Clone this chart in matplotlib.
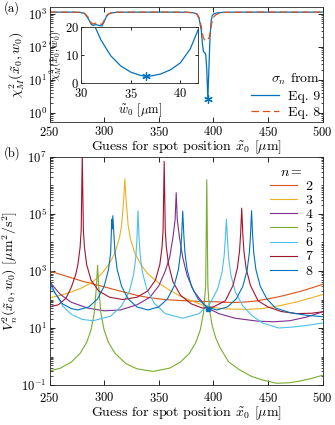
import numpy as np
import matplotlib
matplotlib.use('Agg')
import matplotlib.pyplot as plt
from matplotlib.ticker import LogLocator, NullFormatter, FixedLocator

plt.rcParams['font.family'] = 'serif'
plt.rcParams['font.serif'] = ['cmr10', 'DejaVu Serif']
plt.rcParams['mathtext.fontset'] = 'cm'
plt.rcParams['axes.formatter.use_mathtext'] = True
plt.rcParams['font.size'] = 9

# panel (a): chi^2 vs guess position, two sigma_n estimates
xa = [250, 270, 278, 282, 285, 288, 290, 292, 294, 296, 298, 300, 302, 304, 307, 312, 330, 360, 375, 382,
      385, 387, 389, 390, 391, 392, 393, 394, 395, 396, 397, 398, 399, 400, 402, 405, 410, 430, 470, 500]
chi_eq9 = [1100, 1100, 1080, 1000, 750, 480, 430, 460, 450, 430, 420, 560, 800, 950, 1050, 1090, 1100, 1100, 1090, 1050,
           950, 700, 300, 120, 70, 65, 60, 20, 2.5, 25, 200, 600, 850, 950, 1020, 1060, 1090, 1100, 1100, 1100]
chi_eq8 = [1100, 1100, 1085, 1020, 800, 530, 480, 510, 500, 480, 470, 620, 850, 980, 1060, 1095, 1100, 1100, 1095, 1060,
           970, 750, 400, 250, 180, 160, 150, 160, 170, 180, 250, 400, 600, 750, 900, 1000, 1080, 1100, 1100, 1100]
best_x, best_chi = 395, 2.5

# inset: chi^2 vs spot size guess
w0 = [31, 32, 33, 34, 35, 36, 36.5, 37, 38, 39, 40, 41, 42]
chi_w = [23.5, 15.5, 9.8, 6.2, 4.0, 2.8, 2.5, 2.6, 3.3, 4.8, 7.3, 12.3, 21]
best_w, best_chi_w = 36.5, 2.5

# panel (b): V_n^2 for n = 2..8
x2 = [250, 260, 270, 280, 290, 300, 310, 320, 330, 340, 350, 360, 370, 380, 390, 400, 410, 420, 430, 440, 450, 460, 470, 480, 490, 500]
v2 = [1000, 760, 580, 440, 350, 280, 220, 175, 140, 118, 105, 97, 92, 88, 86, 84, 80, 79, 82, 90, 105, 125, 155, 195, 255, 340]

x3 = [250, 260, 270, 280, 290, 298, 305, 310, 314, 316, 318, 319, 320, 322, 324, 328, 334, 340, 350, 360,
      370, 380, 395, 410, 430, 445, 460, 475, 490, 500]
v3 = [115, 140, 185, 260, 430, 820, 1840, 4400, 14400, 40000, 3.6e5, 1.7e6, 3.6e5, 40000, 14000, 4400, 1600, 800, 380, 210,
      130, 90, 55, 47, 45, 48, 60, 80, 115, 150]

x4 = [250, 255, 260, 270, 285, 300, 315, 330, 342, 350, 356, 360, 363, 365, 366, 367, 369, 372, 376, 382,
      390, 395, 405, 420, 440, 455, 470, 485, 500]
v4 = [430, 250, 150, 80, 50, 40, 43, 65, 120, 300, 1000, 3000, 15000, 63000, 5.6e5, 63000, 15000, 3000, 700, 200,
      80, 50, 32, 22, 17.5, 16.5, 18, 24, 37]

x5 = [250, 260, 270, 278, 284, 288, 291, 293, 294, 295, 297, 300, 304, 310, 320, 330, 345, 360, 370, 378,
      384, 388, 391, 393, 394, 395, 396, 397, 399, 402, 406, 414, 424, 435, 445, 458, 470, 480, 490, 500]
v5 = [0.31, 0.39, 0.64, 1.29, 3.1, 8.5, 34, 300, 1600, 300, 34, 8.5, 3.1, 1.29, 0.56, 0.37, 0.30, 0.39, 0.64, 1.29,
      3.1, 8.5, 34, 300, 1.6e6, 300, 75, 33, 12, 4.7, 2.1, 0.65, 0.34, 0.2, 0.15, 0.115, 0.12, 0.14, 0.17, 0.22]

x6 = [250, 256, 262, 270, 280, 290, 306, 316, 323, 327, 329, 330, 331, 332, 333, 335, 339, 346, 356, 372,
      387, 397, 404, 408, 410, 411, 412, 413, 414, 416, 420, 427, 435, 445, 460, 475, 490, 500]
v6 = [300, 150, 60, 30, 20, 18, 26, 60, 190, 750, 3000, 12000, 1.3e5, 14600, 3660, 920, 236, 73, 32, 22,
      32, 73, 236, 920, 3660, 14600, 6.6e4, 12000, 3000, 750, 190, 60, 28, 15, 10, 11, 13, 15]

x7 = [250, 258, 265, 270, 274, 276, 278, 279, 280, 281, 282, 284, 288, 295, 305, 317, 330, 340, 347, 351,
      353, 354, 355, 356, 357, 359, 363, 370, 380, 390, 400, 411, 418, 422, 424, 425, 426, 427, 428, 430,
      434, 441, 450, 462, 476, 490, 500]
v7 = [56, 65, 110, 270, 750, 1690, 6750, 27000, 1.2e7, 27000, 6750, 1690, 480, 200, 120, 100, 120, 200, 480, 1690,
      6750, 27000, 7e6, 27000, 6750, 1690, 420, 140, 70, 50, 55, 90, 310, 1250, 5000, 20000, 1.6e5, 20000, 5000, 1250,
      310, 90, 55, 38, 32, 33, 37]

x8 = [250, 255, 262, 270, 276, 286, 294, 300, 304, 306, 307, 307.5, 308, 309, 310, 312, 316, 322, 330, 340, 350,
      358, 364, 368, 370, 371, 372, 373, 374, 376, 380, 386, 394, 403, 413, 421, 427, 431, 433, 434, 435,
      436, 437, 439, 443, 449, 457, 470, 485, 500]
v8 = [450, 170, 70, 48, 43, 55, 105, 289, 1110, 4400, 6.5e4, 3e4, 8.7e4, 17500, 4400, 1110, 289, 105, 55, 43, 55,
      105, 289, 1110, 4400, 17500, 1.26e5, 17500, 4400, 1110, 289, 105, 55, 43, 55, 105, 289, 1110, 4400, 17500, 1.3e5,
      17500, 4400, 1110, 289, 105, 50, 35, 28, 25]

cross_x, cross_v = 395, 48

n_labels = ['2', '3', '4', '5', '6', '7', '8']
n_colors = ['#D95319', '#EDB120', '#7E2F8E', '#77AC30', '#4DBEEE', '#A2142F', '#0072BD']
blue = '#0072BD'
orange = '#D95319'
xticks = [250, 300, 350, 400, 450, 500]


def matlab_axes(ax, size=9):
    ax.tick_params(which='both', direction='in', top=True, right=True, labelsize=size, pad=2)
    ax.tick_params(which='major', length=3.5, width=0.6)
    ax.tick_params(which='minor', length=1.8, width=0.5)
    for s in ax.spines.values():
        s.set_linewidth(0.6)
        s.set_color('#262626')


fig = plt.figure(figsize=(3.35, 4.25), dpi=100)

# ---- (a)
axa = fig.add_axes([0.1478, 0.7135, 0.815, 0.2706])
axa.plot(xa, chi_eq9, color=blue, lw=0.9, label='Eq. 9')
axa.plot(xa, chi_eq8, color=orange, lw=0.9, ls=(0, (6, 3)), label='Eq. 8')
axa.plot([best_x], [best_chi], ls='none', marker=(6, 2, 0), ms=6, mec=blue, mew=0.9)
axa.set_yscale('log')
axa.set_xlim(250, 500)
axa.set_ylim(0.53, 1600)
axa.set_xticks(xticks)
axa.set_yticks([1, 10, 100, 1000])
axa.yaxis.set_minor_locator(LogLocator(base=10, subs=np.arange(2, 10)))
axa.yaxis.set_minor_formatter(NullFormatter())
axa.set_xlabel(r'Guess for spot position $\tilde{x}_0$ [$\mu$m]', fontsize=10, labelpad=0)
axa.set_ylabel(r'$\chi^2_M(\tilde{x}_0, w_0)$', fontsize=10, labelpad=1)
matlab_axes(axa)
leg = axa.legend(loc='lower right', frameon=False, fontsize=10, title=r'$\sigma_n$ from',
                 title_fontsize=10, handlelength=2.0, borderaxespad=0.0, labelspacing=0.25,
                 handletextpad=0.6, borderpad=0.2)
leg._legend_box.align = 'right'

# inset
axi = fig.add_axes([0.2418, 0.804, 0.350, 0.1318])
axi.plot(w0, chi_w, color=blue, lw=0.9)
axi.plot([best_w], [best_chi_w], ls='none', marker=(6, 2, 0), ms=6, mec=blue, mew=0.9)
axi.set_xlim(30, 41.8)
axi.set_ylim(0, 20)
axi.set_xticks([30, 35, 40])
axi.set_yticks([0, 10, 20])
matlab_axes(axi, size=9)
axi.tick_params(length=2.5)
axi.tick_params(axis='x', pad=3)
axi.tick_params(axis='y', pad=1.5)
axi.set_xlabel(r'$\tilde{w}_0$ [$\mu$m]', fontsize=9, labelpad=0)
axi.set_ylabel(r'$\chi^2_M(\tilde{x}_0, \tilde{w}_0)$', fontsize=7.5, labelpad=0.5)

# ---- (b)
axb = fig.add_axes([0.1478, 0.0941, 0.815, 0.5365])
xs = [x2, x3, x4, x5, x6, x7, x8]
vs = [v2, v3, v4, v5, v6, v7, v8]
for xx, vv, c, lab in zip(xs, vs, n_colors, n_labels):
    axb.plot(xx, vv, color=c, lw=0.8, label=lab)
axb.plot([cross_x], [cross_v], ls='none', marker='s', ms=3.5, color=blue)
axb.set_yscale('log')
axb.set_xlim(250, 500)
axb.set_ylim(0.1, 1e7)
axb.set_xticks(xticks)
axb.yaxis.set_major_locator(FixedLocator([1e-1, 1e1, 1e3, 1e5, 1e7]))
axb.yaxis.set_minor_locator(LogLocator(base=10, subs=np.arange(1, 10), numticks=20))
axb.yaxis.set_minor_formatter(NullFormatter())
axb.set_xlabel(r'Guess for spot position $\tilde{x}_0$ [$\mu$m]', fontsize=10, labelpad=0)
axb.set_ylabel(r'$V_n^2(\tilde{x}_0, w_0)$ [$\mu$m$^2$/s$^2$]', fontsize=10, labelpad=1)
matlab_axes(axb)
axb.tick_params(axis='x', pad=4)
leg2 = axb.legend(loc='upper right', frameon=False, fontsize=10, title=r'$n =$', title_fontsize=10,
                  handlelength=2.0, borderaxespad=0.3, labelspacing=0.1, handletextpad=0.6)

fig.text(0.012, 0.972, '(a)', fontsize=9)
fig.text(0.012, 0.632, '(b)', fontsize=9)

fig.savefig('out.png', dpi=100)
